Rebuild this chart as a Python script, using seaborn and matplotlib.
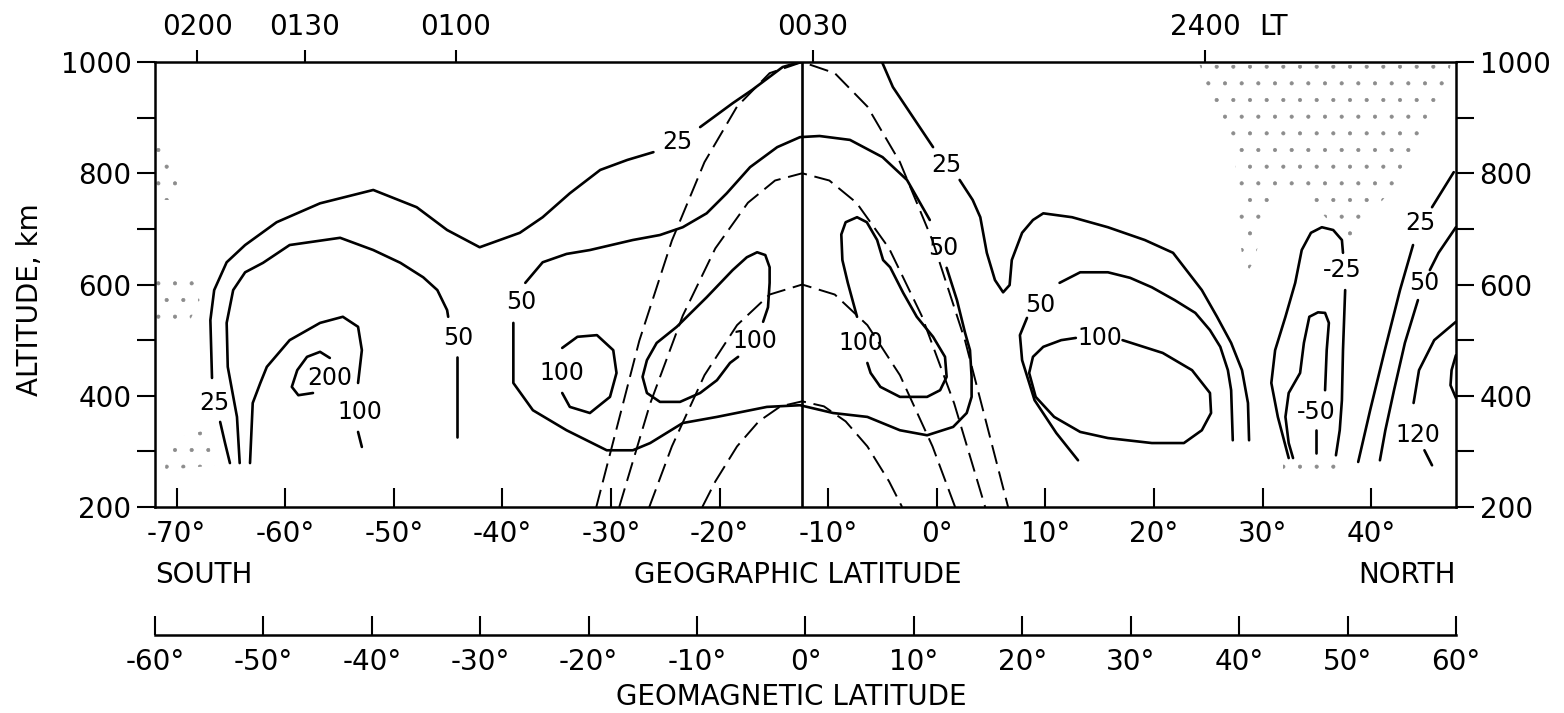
import matplotlib
matplotlib.use('Agg')
import matplotlib.pyplot as plt
import matplotlib.transforms as mtransforms
import seaborn as sns

# --- axes values ---
geo_ticks = [-70, -60, -50, -40, -30, -20, -10, 0, 10, 20, 30, 40]
geo_labels = ['-70°', '-60°', '-50°', '-40°', '-30°', '-20°', '-10°', '0°', '10°', '20°', '30°', '40°']
mag_ticks = [-60, -50, -40, -30, -20, -10, 0, 10, 20, 30, 40, 50, 60]
mag_labels = ['-60°', '-50°', '-40°', '-30°', '-20°', '-10°', '0°', '10°', '20°', '30°', '40°', '50°', '60°']
alt_ticks = [200, 300, 400, 500, 600, 700, 800, 900, 1000]
alt_labels = ['200', '', '400', '', '600', '', '800', '', '1000']
lt_lat = [-68.1, -58.2, -44.3, -11.4, 24.7]
lt_labels = ['0200', '0130', '0100', '0030', '2400']
mag_equator_lat = -12.4

# --- dipole field lines (dashed), apex 1000 / 800 / 600 / 390 km ---
f1000_lat = [-31.4, -27.4, -24.4, -21.4, -18.4, -15.4, -12.4, -9.4, -6.4, -3.4, -0.4, 2.6, 6.6]
f1000_alt = [197, 499, 679, 820, 920, 980, 1000, 980, 920, 820, 679, 499, 197]
f800_lat = [-29.25, -26.4, -23.4, -20.4, -17.4, -14.9, -12.4, -9.9, -7.4, -4.4, -1.4, 1.6, 4.45]
f800_alt = [200, 386, 544, 665, 747, 787, 800, 787, 747, 665, 544, 386, 200]
f600_lat = [-26.5, -24.4, -21.4, -18.4, -15.4, -12.4, -9.4, -6.4, -3.4, -0.4, 1.7]
f600_alt = [199, 309, 437, 527, 582, 600, 582, 527, 437, 309, 199]
f390_lat = [-21.6, -20.4, -18.4, -16.4, -14.4, -12.4, -10.4, -8.4, -6.4, -4.4, -3.2]
f390_alt = [200, 246, 309, 354, 381, 390, 381, 354, 309, 246, 200]

# --- solid contours (lat, alt) ---
c25_sw_lat = [-66.0, -65.55, -65.1]
c25_sw_alt = [353, 315, 279]
c25_s_lat = [-66.75, -66.9, -66.55, -65.4, -63.7, -60.8, -56.8, -51.9, -47.9, -45.1, -42.1,
             -38.4, -36.3, -33.8, -31.0, -28.5, -26.1]
c25_s_alt = [432, 536, 590, 640, 671, 712, 746, 770, 739, 698, 667, 693, 721, 764, 806, 824, 838]
c25_top_lat = [-21.8, -18.8, -17.0, -14.2, -12.6]
c25_top_alt = [883, 926, 950, 991, 1000]
c25_ntop_lat = [-5.05, -4.05, -2.2, -0.35]
c25_ntop_alt = [1000, 955, 901, 847]
c25_n_lat = [2.1, 3.3, 4.0, 4.6, 5.35, 6.1, 6.7, 6.9, 7.85, 8.85, 9.8, 12.45, 15.75, 19.15,
             21.75, 24.4, 25.8, 27.1, 28.1, 28.65, 28.75]
c25_n_alt = [788, 752, 721, 657, 608, 586, 599, 644, 693, 716, 728, 721, 703, 680, 657, 590,
             542, 495, 446, 387, 320]

c50_s_lat = [-64.2, -64.45, -65.3, -65.4, -64.8, -63.7, -62.05, -59.6, -54.95, -51.9, -49.4,
             -47.3, -46.0, -45.1, -45.0]
c50_s_alt = [279, 362, 452, 531, 590, 622, 639, 671, 684, 662, 639, 613, 590, 554, 542]
c50_s2_lat = [-44.2, -44.2]
c50_s2_alt = [470, 326]

c100_s_lat = [-63.25, -63.0, -62.3, -61.7, -59.6, -56.8, -54.7, -53.3, -52.95, -53.3]
c100_s_alt = [279, 387, 423, 452, 500, 531, 542, 524, 482, 423]
c100_s2_lat = [-53.3, -52.95]
c100_s2_alt = [335, 308]
c200_lat = [-55.9, -56.8, -58.0, -58.9, -59.4, -58.8, -57.45]
c200_alt = [468, 479, 470, 446, 416, 401, 405]

c50_mid_up_lat = [-37.9, -36.3, -34.1, -31.95, -28.0, -25.5, -23.4, -21.2, -19.35, -17.2, -14.7,
                  -12.6, -10.8, -8.0, -5.0, -2.75, -0.65]
c50_mid_up_alt = [603, 640, 655, 662, 680, 689, 703, 728, 764, 811, 847, 865, 867, 860, 829, 788, 716]
c50_mid_lo_lat = [0.9, 1.85, 2.6, 3.05, 3.2, 3.2, 2.75, 1.5, -0.9, -3.4, -6.4, -9.55, -12.6,
                  -15.65, -20.25, -23.4, -26.4, -28.0, -30.4, -34.1, -37.2, -39.0, -39.0]
c50_mid_lo_alt = [630, 572, 513, 482, 434, 398, 369, 344, 329, 338, 362, 369, 383, 380, 362,
                  351, 315, 302, 302, 338, 374, 423, 531]

c100_c_lat = [-34.5, -33.1, -31.3, -29.8, -29.5, -30.1, -31.95, -33.8, -34.5]
c100_c_alt = [486, 506, 509, 482, 441, 398, 369, 380, 405]
c100_ml_lat = [-16.0, -15.55, -15.4, -15.4, -15.8, -16.55, -17.5, -18.8, -21.2, -23.95, -25.8,
               -26.7, -27.1, -26.7, -25.5, -23.65, -21.8, -20.25, -19.05, -18.3]
c100_ml_alt = [533, 559, 603, 631, 653, 658, 649, 626, 577, 524, 495, 464, 434, 405, 389, 389,
               405, 428, 459, 470]
c100_mr_lat = [-7.35, -8.2, -8.7, -8.8, -8.4, -7.35, -6.45, -5.5, -4.95, -4.3, -3.1, -1.85,
               -0.35, 0.75, 0.9, 0.3, -0.9, -3.4, -5.2, -6.1, -6.4]
c100_mr_alt = [542, 603, 644, 690, 712, 721, 712, 680, 644, 631, 585, 542, 506, 470, 434, 410,
               398, 398, 416, 441, 459]

c50_n1_lat = [13.0, 11.0, 9.0, 7.85, 7.65, 8.3]
c50_n1_alt = [284, 333, 392, 464, 509, 540]
c50_n2_lat = [11.3, 13.2, 15.75, 17.8, 19.8, 21.9, 23.8, 25.15, 26.1, 26.8, 27.1, 27.25]
c50_n2_alt = [603, 622, 622, 612, 595, 572, 549, 518, 488, 446, 410, 320]
c100_n_lat = [17.1, 20.8, 23.5, 25.15, 25.25, 24.4, 22.75, 19.8, 15.75, 13.2, 10.8, 9.1, 8.5,
              8.85, 9.8, 11.45, 12.8]
c100_n_alt = [500, 477, 446, 405, 369, 338, 315, 315, 324, 335, 362, 398, 441, 470, 488, 500, 504]

cm25_lat = [32.4, 31.4, 30.8, 31.15, 32.1, 33.0, 33.6, 34.45, 35.45, 36.5, 37.3, 37.4]
cm25_alt = [288, 362, 423, 482, 542, 603, 662, 693, 703, 698, 680, 657]
cm25b_lat = [37.6, 37.4, 37.3, 37.1, 36.75]
cm25b_alt = [590, 482, 392, 338, 293]
cm50_lat = [32.8, 32.4, 32.1, 32.4, 33.45, 33.8, 34.3, 35.1, 35.75, 36.1, 35.9, 35.75]
cm50_alt = [288, 315, 362, 405, 441, 495, 542, 550, 549, 531, 482, 410]
cm50b_lat = [34.9, 34.9]
cm50b_alt = [338, 297]

c25_ne_lat = [47.6, 45.6]
c25_ne_alt = [802, 739]
c25_ne2_lat = [43.85, 42.65, 41.25, 39.9, 38.8]
c25_ne2_alt = [671, 590, 482, 374, 281]
c50_ne_lat = [47.8, 46.2, 45.4]
c50_ne_alt = [703, 657, 626]
c50_ne2_lat = [44.3, 43.1, 42.1, 41.3, 40.8]
c50_ne2_alt = [572, 495, 410, 338, 284]
c120_lat = [47.8, 45.8, 44.4, 43.9]
c120_alt = [533, 500, 446, 387]
c120b_lat = [44.9, 45.6]
c120b_alt = [302, 275]
c_edge_lat = [47.8, 47.4, 47.3, 47.8]
c_edge_alt = [473, 446, 419, 396]

# contour labels
lab_lat = [-66.5, -55.9, -53.1, -44.1, -38.3, -34.5, -23.9, -16.75, -7.0, 0.9, 0.55, 9.5, 15.0,
           37.3, 34.9, 44.5, 44.9, 44.3]
lab_alt = [387, 432, 371, 504, 568, 441, 856, 498, 495, 815, 666, 563, 504, 626, 371, 711, 603, 329]
lab_txt = ['25', '200', '100', '50', '50', '100', '25', '100', '100', '25', '50', '50', '100',
           '-25', '-50', '25', '50', '120']

# stippled (data-gap) regions
stip_ne_lat = [24.2, 47.3, 46.8, 42.6, 40.3, 39.0, 37.6, 34.4, 32.5, 30.2, 29.3, 28.4, 27.9, 27.45, 25.6]
stip_ne_alt = [995, 995, 932, 788, 734, 698, 680, 752, 770, 734, 644, 617, 680, 824, 914]
stip_w1_lat = [-71.9, -70.6, -69.7, -70.1, -71.9]
stip_w1_alt = [860, 842, 806, 752, 752]
stip_w2_lat = [-71.9, -68.8, -67.9, -69.2, -71.9]
stip_w2_alt = [617, 626, 572, 518, 536]
stip_w3_lat = [-70.8, -67.4, -66.5, -71.1]
stip_w3_alt = [320, 338, 275, 266]
stip_n_lat = [31.9, 37.1, 37.1, 31.9]
stip_n_alt = [277, 277, 259, 259]

sns.set_theme(style='white')
plt.rcParams['font.family'] = ['DejaVu Sans']
plt.rcParams['text.color'] = 'black'
plt.rcParams['hatch.linewidth'] = 0.5

fig = plt.figure(figsize=(15.64, 7.13), dpi=100)
ax = fig.add_axes([0.0991, 0.2889, 0.8318, 0.6241])


def curve(lat, alt, dashed=False):
    ls = (0, (10, 4)) if dashed else '-'
    lw = 1.4 if dashed else 1.9
    sns.lineplot(x=lat, y=alt, sort=False, estimator=None, color='black',
                 linewidth=lw, linestyle=ls, legend=False, ax=ax)


# stipple
for la, al in [(stip_ne_lat, stip_ne_alt), (stip_w1_lat, stip_w1_alt), (stip_w2_lat, stip_w2_alt),
               (stip_w3_lat, stip_w3_alt), (stip_n_lat, stip_n_alt)]:
    ax.fill(la, al, facecolor='none', edgecolor='0.55', linewidth=0, hatch='.')

# field lines
for la, al in [(f1000_lat, f1000_alt), (f800_lat, f800_alt), (f600_lat, f600_alt), (f390_lat, f390_alt)]:
    curve(la, al, dashed=True)
curve([mag_equator_lat, mag_equator_lat], [200, 1000])

solid = [
    (c25_sw_lat, c25_sw_alt), (c25_s_lat, c25_s_alt), (c25_top_lat, c25_top_alt),
    (c25_ntop_lat, c25_ntop_alt), (c25_n_lat, c25_n_alt),
    (c50_s_lat, c50_s_alt), (c50_s2_lat, c50_s2_alt),
    (c100_s_lat, c100_s_alt), (c100_s2_lat, c100_s2_alt), (c200_lat, c200_alt),
    (c50_mid_up_lat, c50_mid_up_alt), (c50_mid_lo_lat, c50_mid_lo_alt),
    (c100_c_lat, c100_c_alt), (c100_ml_lat, c100_ml_alt), (c100_mr_lat, c100_mr_alt),
    (c50_n1_lat, c50_n1_alt), (c50_n2_lat, c50_n2_alt), (c100_n_lat, c100_n_alt),
    (cm25_lat, cm25_alt), (cm25b_lat, cm25b_alt), (cm50_lat, cm50_alt), (cm50b_lat, cm50b_alt),
    (c25_ne_lat, c25_ne_alt), (c25_ne2_lat, c25_ne2_alt), (c50_ne_lat, c50_ne_alt),
    (c50_ne2_lat, c50_ne2_alt), (c120_lat, c120_alt), (c120b_lat, c120b_alt),
    (c_edge_lat, c_edge_alt),
]
for la, al in solid:
    curve(la, al)

for x, y, s in zip(lab_lat, lab_alt, lab_txt):
    ax.text(x, y, s, ha='center', va='center', fontsize=17, color='black')

ax.set_xlim(-72, 47.8)
ax.set_ylim(200, 1000)
ax.set_xlabel('')
ax.set_ylabel('')
ax.set_xticks(geo_ticks)
ax.set_xticklabels(geo_labels)
ax.set_yticks(alt_ticks)
ax.set_yticklabels(alt_labels)
ax.tick_params(axis='x', direction='in', length=14, width=1.5, pad=9, labelsize=20,
               bottom=True, colors='black')
ax.tick_params(axis='y', direction='out', length=13, width=1.5, pad=4, labelsize=20,
               left=True, right=True, labelleft=True, labelright=True, colors='black')
for sp in ax.spines.values():
    sp.set_visible(True)
    sp.set_color('black')
    sp.set_linewidth(1.8)

# local time axis on top
ax_top = ax.twiny()
ax_top.set_xlim(ax.get_xlim())
ax_top.set_xticks(lt_lat)
ax_top.set_xticklabels(lt_labels)
ax_top.tick_params(axis='x', direction='out', length=9, width=1.5, pad=6, labelsize=20,
                   top=True, colors='black')
for sp in ax_top.spines.values():
    sp.set_visible(False)
trans = mtransforms.blended_transform_factory(ax.transData, ax.transAxes)
ax.text(29.7, 1.079, 'LT', transform=trans, ha='left', va='center', fontsize=20, color='black')

# geomagnetic latitude axis
gax = fig.add_axes([0.0991, 0.109, 0.8318, 0.0])
gax.set_xlim(-60, 60)
gax.set_yticks([])
gax.set_xticks(mag_ticks)
gax.set_xticklabels(mag_labels)
gax.tick_params(axis='x', direction='in', length=14, width=1.5, pad=9, labelsize=20,
                bottom=True, colors='black')
for name, sp in gax.spines.items():
    sp.set_visible(name == 'bottom')
    sp.set_color('black')
    sp.set_linewidth(1.8)
gax.patch.set_visible(False)

fig.text(0.099, 0.193, 'SOUTH', ha='left', va='center', fontsize=20, color='black')
fig.text(0.931, 0.193, 'NORTH', ha='right', va='center', fontsize=20, color='black')
fig.text(0.510, 0.193, 'GEOGRAPHIC LATITUDE', ha='center', va='center', fontsize=20, color='black')
fig.text(0.506, 0.022, 'GEOMAGNETIC LATITUDE', ha='center', va='center', fontsize=20, color='black')
fig.text(0.019, 0.58, 'ALTITUDE, km', ha='center', va='center', rotation=90, fontsize=20, color='black')

fig.savefig('out.png', dpi=100)
